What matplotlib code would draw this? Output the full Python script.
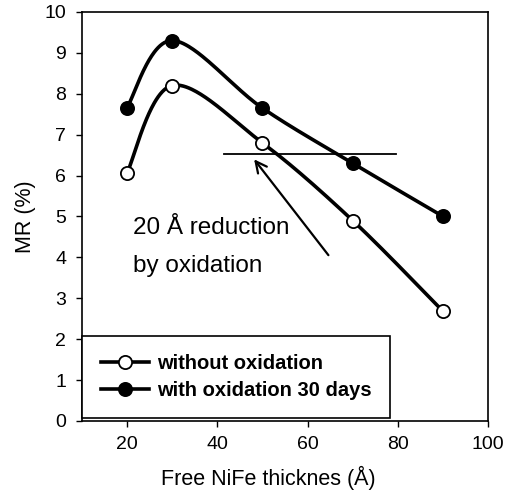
import numpy as np
import matplotlib
matplotlib.use("Agg")
import matplotlib.pyplot as plt

thickness = [20, 30, 50, 70, 90]
mr_without = [6.05, 8.2, 6.8, 4.9, 2.68]
mr_with = [7.65, 9.3, 7.65, 6.3, 5.0]
labels = ["without oxidation", "with oxidation 30 days"]
ref_level = 6.52
ref_span = [41.5, 79.5]

def catmull_rom(x, y, n=60):
    P = np.column_stack([x, y]).astype(float)
    P = np.vstack([P[0], P, P[-1]])
    out = []
    for i in range(1, len(P) - 2):
        p0, p1, p2, p3 = P[i - 1], P[i], P[i + 1], P[i + 2]
        m1 = (p2 - p0) / 2
        m2 = (p3 - p1) / 2
        t = np.linspace(0, 1, n)[:, None]
        h00 = 2 * t**3 - 3 * t**2 + 1
        h10 = t**3 - 2 * t**2 + t
        h01 = -2 * t**3 + 3 * t**2
        h11 = t**3 - t**2
        out.append(h00 * p1 + h10 * m1 + h01 * p2 + h11 * m2)
    c = np.vstack(out)
    return c[:, 0], c[:, 1]

plt.rcParams['font.family'] = ['Liberation Sans', 'DejaVu Sans']
fig = plt.figure(figsize=(5.07, 4.95), dpi=100)
ax = fig.add_axes([0.161, 0.1495, 0.802, 0.8265])

for ys, fc, lab in [(mr_without, 'white', labels[0]), (mr_with, 'black', labels[1])]:
    sx, sy = catmull_rom(thickness, ys)
    ax.plot(sx, sy, color='black', lw=2.6, zorder=2, solid_capstyle='round')
    ax.plot(thickness, ys, 'o', ms=9.5, mfc=fc, mec='black', mew=1.3, zorder=3)
    ax.plot([], [], '-o', color='black', lw=2.6, ms=9.5, mfc=fc, mec='black', mew=1.3, label=lab)

ax.plot(ref_span, [ref_level, ref_level], color='black', lw=1.3, zorder=1)
ax.annotate('', xy=(47.8, 6.45), xytext=(65, 4.0),
            arrowprops=dict(arrowstyle='->', color='black', lw=1.6, mutation_scale=20))
ax.text(21.3, 4.72, '20 Å reduction', fontsize=17.5, va='center', ha='left')
ax.text(21.3, 3.8, 'by oxidation', fontsize=17.5, va='center', ha='left')

ax.set_xlim(10, 100)
ax.set_ylim(0, 10)
ax.set_xticks([20, 40, 60, 80, 100])
ax.set_yticks(range(0, 11))
ax.tick_params(direction='out', length=4, width=1, labelsize=14, pad=7, top=False, right=False)
for s in ax.spines.values():
    s.set_linewidth(1.2)
ax.set_xlabel('Free NiFe thicknes (Å)', fontsize=15.5, labelpad=9)
ax.xaxis.label.set_x(0.46)
ax.set_ylabel('MR (%)', fontsize=15.5, labelpad=6)

leg = ax.legend(loc='lower left', bbox_to_anchor=(0.002, 0.007), borderaxespad=0,
                fancybox=False, framealpha=1, edgecolor='black', handlelength=2.4,
                handletextpad=0.4, prop={'size': 14.5, 'weight': 'bold'},
                borderpad=0.9, labelspacing=0.4)
leg.get_frame().set_linewidth(1.2)

fig.savefig('out.png', dpi=100)
